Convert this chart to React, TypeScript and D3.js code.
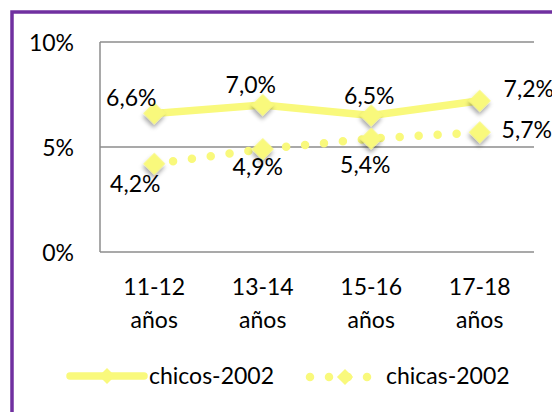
import * as d3 from "d3";

// chart data
const categories = ["11-12 años", "13-14 años", "15-16 años", "17-18 años"];
const chicos = [0.066, 0.07, 0.065, 0.072];
const chicas = [0.042, 0.049, 0.054, 0.057];
const chicosLabels = ["6,6%", "7,0%", "6,5%", "7,2%"];
const chicasLabels = ["4,2%", "4,9%", "5,4%", "5,7%"];
const yTicks = [0, 0.05, 0.1];
const yTickLabels = ["0%", "5%", "10%"];
const seriesNames = ["chicos-2002", "chicas-2002"];

// label nudges (hand placed in the original)
const chicosOffsets = [[-23, -7], [-12, -12], [-2, -12], [49, -4]];
const chicasOffsets = [[-19, 28], [-5, 26], [-6, 34], [47, 6]];

const YELLOW = "#F9F97C";
const GRID = "#8C8C8C";
const FONT = "Lato, 'Open Sans', sans-serif";
const FS = 23;

export default function App() {
  const width = 552;
  const height = 412;
  const plot = { left: 100, right: 534, top: 42, bottom: 252 };

  const x = d3
    .scaleBand()
    .domain(categories)
    .range([plot.left, plot.right]);
  const cx = (c: string) => (x(c) as number) + x.bandwidth() / 2;

  const y = d3.scaleLinear().domain([0, 0.1]).range([plot.bottom, plot.top]);

  const line = d3
    .line<number>()
    .x((_, i) => cx(categories[i]))
    .y(d => y(d));

  const diamond = d3.symbol().type(d3.symbolSquare).size(242)();
  const legendDiamond = d3.symbol().type(d3.symbolSquare).size(130)();

  return (
    <svg
      width={width}
      height={height}
      style={{ position: "absolute", left: 0, top: 0, background: "#fff" }}
    >
      <defs>
        <filter id="shadow" x="-50%" y="-50%" width="200%" height="200%">
          <feDropShadow dx="2" dy="3" stdDeviation="2" floodColor="#000" floodOpacity="0.35" />
        </filter>
      </defs>

      {/* frame */}
      <rect x={12} y={12} width={600} height={460} fill="none" stroke="#7030A0" strokeWidth={3.5} />

      {/* grid + axes */}
      {yTicks.map((t, i) => (
        <g key={i}>
          <line x1={plot.left} x2={plot.right} y1={y(t)} y2={y(t)} stroke={GRID} strokeWidth={1.5} />
          <text
            x={74}
            y={y(t)}
            textAnchor="end"
            dominantBaseline="central"
            fontSize={FS}
            fontFamily={FONT}
            fill="#000"
          >
            {yTickLabels[i]}
          </text>
        </g>
      ))}
      <line x1={plot.left} x2={plot.left} y1={plot.top} y2={plot.bottom} stroke={GRID} strokeWidth={1.5} />

      {/* category labels */}
      {categories.map(c => {
        const [a, b] = c.split(" ");
        return (
          <text key={c} x={cx(c)} textAnchor="middle" fontSize={FS} fontFamily={FONT} fill="#000">
            <tspan x={cx(c)} y={295}>{a}</tspan>
            <tspan x={cx(c)} y={328}>{b}</tspan>
          </text>
        );
      })}

      {/* chicas: dotted */}
      <path
        d={line(chicas) as string}
        fill="none"
        stroke={YELLOW}
        strokeWidth={8.5}
        strokeLinecap="round"
        strokeDasharray="0 19"
      />
      {/* chicos: solid */}
      <path d={line(chicos) as string} fill="none" stroke={YELLOW} strokeWidth={7.5} strokeLinejoin="round" />

      {[chicos, chicas].map((s, si) =>
        s.map((v, i) => (
          <path
            key={`${si}-${i}`}
            d={diamond as string}
            transform={`translate(${cx(categories[i])},${y(v)}) rotate(45)`}
            fill={YELLOW}
            filter="url(#shadow)"
          />
        ))
      )}

      {/* data labels */}
      {chicos.map((v, i) => (
        <text
          key={`l1-${i}`}
          x={cx(categories[i]) + chicosOffsets[i][0]}
          y={y(v) + chicosOffsets[i][1]}
          textAnchor="middle"
          fontSize={FS}
          fontFamily={FONT}
          fill="#000"
        >
          {chicosLabels[i]}
        </text>
      ))}
      {chicas.map((v, i) => (
        <text
          key={`l2-${i}`}
          x={cx(categories[i]) + chicasOffsets[i][0]}
          y={y(v) + chicasOffsets[i][1]}
          textAnchor="middle"
          fontSize={FS}
          fontFamily={FONT}
          fill="#000"
        >
          {chicasLabels[i]}
        </text>
      ))}

      {/* legend */}
      <g>
        <line x1={70} x2={144} y1={376} y2={376} stroke={YELLOW} strokeWidth={7.5} strokeLinecap="round" />
        <path d={legendDiamond as string} transform="translate(107,376) rotate(45)" fill={YELLOW} />
        <text x={149} y={384} fontSize={FS} fontFamily={FONT} fill="#000">
          {seriesNames[0]}
        </text>

        <line
          x1={310}
          x2={370}
          y1={377}
          y2={377}
          stroke={YELLOW}
          strokeWidth={8.5}
          strokeLinecap="round"
          strokeDasharray="0 19"
        />
        <path d={legendDiamond as string} transform="translate(345,377) rotate(45)" fill={YELLOW} />
        <text x={386} y={384} fontSize={FS} fontFamily={FONT} fill="#000">
          {seriesNames[1]}
        </text>
      </g>
    </svg>
  );
}
